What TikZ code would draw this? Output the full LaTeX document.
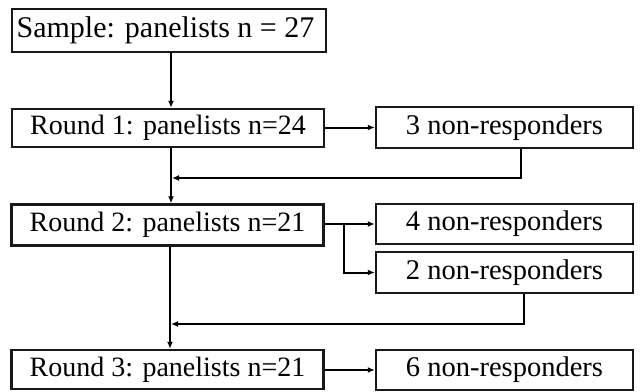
\documentclass[tikz,border=0pt]{standalone}
\usepackage{fontspec}
\setmainfont{Liberation Serif}
\usetikzlibrary{arrows.meta}
\begin{document}
\begin{tikzpicture}[x=1pt,y=-1pt,
  box/.style={draw=black!90,line width=2.5pt,inner sep=0pt,font=\fontsize{28.5}{30}\selectfont},
  rbox/.style={box,minimum width=312pt,font=\fontsize{28}{30}\selectfont},
  nbox/.style={box,minimum width=257pt},
  arr/.style={line width=2pt,-{Latex[length=7pt,width=6pt]}}]
\useasboundingbox (0,0) rectangle (640,391);
\node[box,minimum width=314pt,minimum height=43pt,font=\fontsize{30}{32}\selectfont] (sample) at (169,30.5) {\hspace*{-7pt}Sample: panelists n = 27};
\node[rbox,minimum height=38pt] (r1) at (168,128) {Round 1: panelists n=24};
\node[nbox,minimum height=41pt] (nr3) at (504.5,127.5) {3 non-responders};
\node[rbox,minimum height=41pt] (r2) at (167.5,225) {Round 2: panelists n=21};
\node[nbox,minimum height=40pt] (nr4) at (504.5,224) {4 non-responders};
\node[nbox,minimum height=41pt] (nr2) at (504.5,272.5) {2 non-responders};
\node[rbox,minimum height=39pt] (r3) at (167.5,369.5) {Round 3: panelists n=21};
\node[nbox,minimum height=40pt] (nr6) at (504.5,370) {6 non-responders};
\coordinate (j1) at (171,178);
\coordinate (j2) at (170,324);
\coordinate (b) at (344,224);
\draw[arr] (sample.south -| j1) -- (r1.north -| j1);
\draw[arr] (r1.east |- nr3.west) -- (nr3.west);
\draw[arr] (r1.south -| j1) -- (r2.north -| j1);
\draw[arr] ([xshift=16pt]nr3.south) |- ([xshift=1pt]j1);
\draw[arr] (r2.east |- nr4.west) -- (nr4.west);
\draw[arr] (b) |- (nr2.west);
\draw[arr] (r2.south -| j2) -- (r3.north -| j2);
\draw[arr] ([xshift=19.5pt]nr2.south) |- ([xshift=1pt]j2);
\draw[arr] (r3.east |- nr6.west) -- (nr6.west);
\end{tikzpicture}
\end{document}
